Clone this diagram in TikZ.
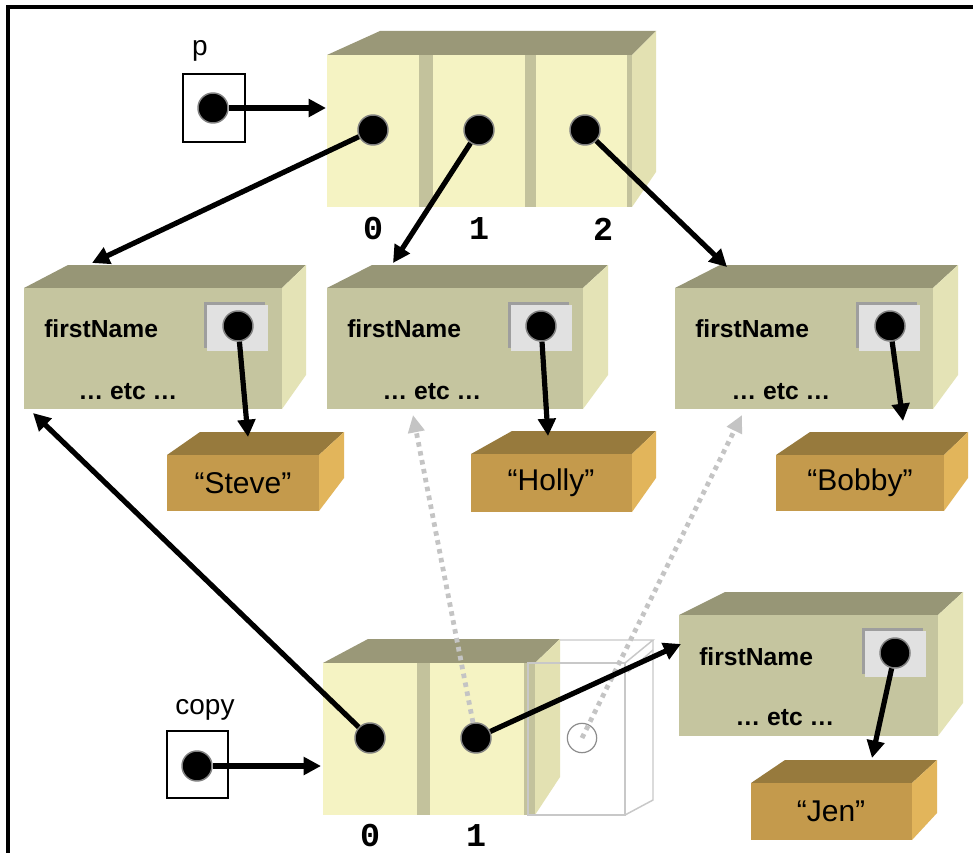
\documentclass[tikz,border=0pt]{standalone}
\usepackage{fontspec}
\setmainfont{Liberation Sans}
\newfontfamily\idxfont{Liberation Mono}
\usetikzlibrary{arrows.meta}

\definecolor{arrFront}{HTML}{F5F3C3}
\definecolor{arrBar}{HTML}{C3C29C}
\definecolor{arrTop}{HTML}{9A9878}
\definecolor{arrSide}{HTML}{E3E1B2}
\definecolor{objFront}{HTML}{C5C59F}
\definecolor{objTop}{HTML}{979676}
\definecolor{objSide}{HTML}{E4E3B6}
\definecolor{strFront}{HTML}{C49A4C}
\definecolor{strTop}{HTML}{977A3D}
\definecolor{strSide}{HTML}{E2B55B}
\definecolor{slotFill}{HTML}{E1E1E1}
\definecolor{slotEdge}{HTML}{9E9E9E}
\definecolor{ghostLine}{HTML}{C8C8C8}
\definecolor{ghostArrow}{HTML}{C4C4C4}

% 3-D block: front (#1,#2)-(#3,#4), back edge x #5..#6 at y #7, back bottom #8, colour prefix #9
\newcommand\blockbox[9]{%
  \fill[#9Top] (#1,#2) -- (#5,#7) -- (#6,#7) -- (#3,#2) -- cycle;
  \fill[#9Side] (#3,#2) -- (#6,#7) -- (#6,#8) -- (#3,#4) -- cycle;
  \fill[#9Front] (#1,#2) rectangle (#3,#4);
}
% reference slot inside an object, top-left corner (#1,#2)
\newcommand\refslot[2]{%
  \fill[slotEdge] (#1,#2) rectangle ++(61,46);
  \fill[slotFill] (#1+3,#2+3) rectangle ++(61,46);
}

\tikzset{
  dot/.style={circle, fill=black, draw=black!50, line width=1.1pt,
    minimum size=22.5pt, inner sep=0pt},
  ghostdot/.style={circle, draw=black!45, line width=0.9pt,
    minimum size=22pt, inner sep=0pt},
  ptr/.style={line width=3.9pt, -{Triangle[length=13pt,width=13pt]}},
  oldptr/.style={ghostArrow, line width=3.6pt, dash pattern=on 3.4pt off 3.4pt,
    -{Triangle[length=13pt,width=12pt]}},
  field/.style={font=\fontsize{18.5}{22}\selectfont\bfseries, inner sep=0pt},
  strtext/.style={font=\fontsize{22.5}{26}\selectfont, inner sep=0pt},
  varname/.style={font=\fontsize{21}{24}\selectfont, inner sep=0pt},
  idx/.style={font=\idxfont\fontsize{25}{28}\selectfont\bfseries, inner sep=0pt},
  varbox/.style={draw=black, line width=1.2pt, fill=white},
}

\begin{document}
\begin{tikzpicture}[x=0.75pt, y=-0.75pt]
\useasboundingbox (0,0) rectangle (973,852);
\fill[white] (0,0) rectangle (973,852);
\draw[line width=2.4pt] (8,860) -- (8,7) -- (980,7);

% ---- array referenced by p ----
\blockbox{327}{55}{632}{207}{380}{656}{31}{172}{arr}
\fill[arrBar] (419,55) rectangle (433,207);
\fill[arrBar] (525,55) rectangle (536,207);
\fill[arrBar] (627,55) rectangle (632,207);
\node[idx] (i0) at (373,229) {0};
\node[idx] (i1) at (479,229) {1};
\node[idx] (i2) at (603,229) {2};

% ---- Person objects ----
\blockbox{24}{288}{282}{409}{68}{306}{265}{375}{obj}
\blockbox{327}{288}{583}{409}{372}{608}{265}{375}{obj}
\blockbox{675}{288}{933}{409}{720}{958}{265}{375}{obj}
\blockbox{679}{615}{938}{736}{725}{963}{592}{703}{obj}
\refslot{204}{302}
\refslot{508}{302}
\refslot{856}{302}
\refslot{862}{628}
\node[field, anchor=west] (f1) at (44,329) {firstName};
\node[field, anchor=west] (f2) at (347,329) {firstName};
\node[field, anchor=west] (f3) at (695,329) {firstName};
\node[field, anchor=west] (f4) at (699,657) {firstName};
\node[field] (e1) at (128,392) {… etc …};
\node[field] (e2) at (432,392) {… etc …};
\node[field] (e3) at (781,392) {… etc …};
\node[field] (e4) at (785,718) {… etc …};

% ---- String objects ----
\blockbox{167}{455}{319}{511}{200}{344}{432}{478}{str}
\blockbox{471}{454}{632}{512}{512}{656}{431}{478}{str}
\blockbox{776}{455}{944}{511}{810}{968}{432}{478}{str}
\blockbox{751}{783}{912}{840}{785}{937}{760}{813}{str}
\node[strtext] (s1) at (243,483) {“Steve”};
\node[strtext] (s2) at (551,483) {“Holly”};
\node[strtext] (s3) at (860,483) {“Bobby”};
\node[strtext] (s4) at (831,811) {“Jen”};

% ---- array referenced by copy ----
\blockbox{323}{663}{535}{815}{368}{560}{639}{777}{arr}
\fill[arrBar] (417,663) rectangle (430,815);
\fill[arrBar] (524,663) rectangle (535,815);
% discarded third slot
\begin{scope}[ghostLine, line width=1.1pt]
  \draw (528,663) rectangle (625,815);
  \draw (560,640) -- (653,640) -- (625,663);
  \draw (653,640) -- (653,800) -- (625,815);
  \draw (628,672) -- (653,650);
\end{scope}
\node[idx] (j0) at (370,836) {0};
\node[idx] (j1) at (476,836) {1};

% ---- variables ----
\node[varname] (plab) at (200,51) {p};
\draw[varbox] (183,74) rectangle (245,142);
\node[varname] (clab) at (205,710) {copy};
\draw[varbox] (167,731) rectangle (228,798);

% ---- pointer dots ----
\node[dot] (pv) at (213,108) {};
\node[dot] (cv) at (197,766) {};
\node[dot] (a0) at (373,130) {};
\node[dot] (a1) at (479,130) {};
\node[dot] (a2) at (585,130) {};
\node[dot] (b0) at (370,738) {};
\node[dot] (b1) at (476,738) {};
\node[ghostdot] (b2) at (582,738) {};
\node[dot] (n1) at (238,326) {};
\node[dot] (n2) at (541,326) {};
\node[dot] (n3) at (890,326) {};
\node[dot] (n4) at (895,653) {};

% ---- arrow targets ----
\coordinate (pA) at (326,108);
\coordinate (cA) at (321,766);
\coordinate (o1top) at (92,263);
\coordinate (o2top) at (393,263);
\coordinate (o3top) at (727,267);
\coordinate (o1corner) at (33,413);
\coordinate (o2under) at (413,415);
\coordinate (o3under) at (742,415);
\coordinate (o4left) at (681,644);
\coordinate (s1top) at (248,437);
\coordinate (s2top) at (548,436);
\coordinate (s3top) at (903,421);
\coordinate (s4top) at (872,758);

% ---- old references kept by the discarded slot ----
\draw[oldptr] (b1) -- (o2under);
\draw[oldptr] (b2.center) -- (o3under);

% ---- references ----
\draw[ptr] (pv) -- (pA);
\draw[ptr] (cv) -- (cA);
\draw[ptr] (a0) -- (o1top);
\draw[ptr] (a1) -- (o2top);
\draw[ptr] (a2) -- (o3top);
\draw[ptr] (b0) -- (o1corner);
\draw[ptr] (b1) -- (o4left);
\draw[ptr] (n1) -- (s1top);
\draw[ptr] (n2) -- (s2top);
\draw[ptr] (n3) -- (s3top);
\draw[ptr] (n4) -- (s4top);
\end{tikzpicture}
\end{document}
